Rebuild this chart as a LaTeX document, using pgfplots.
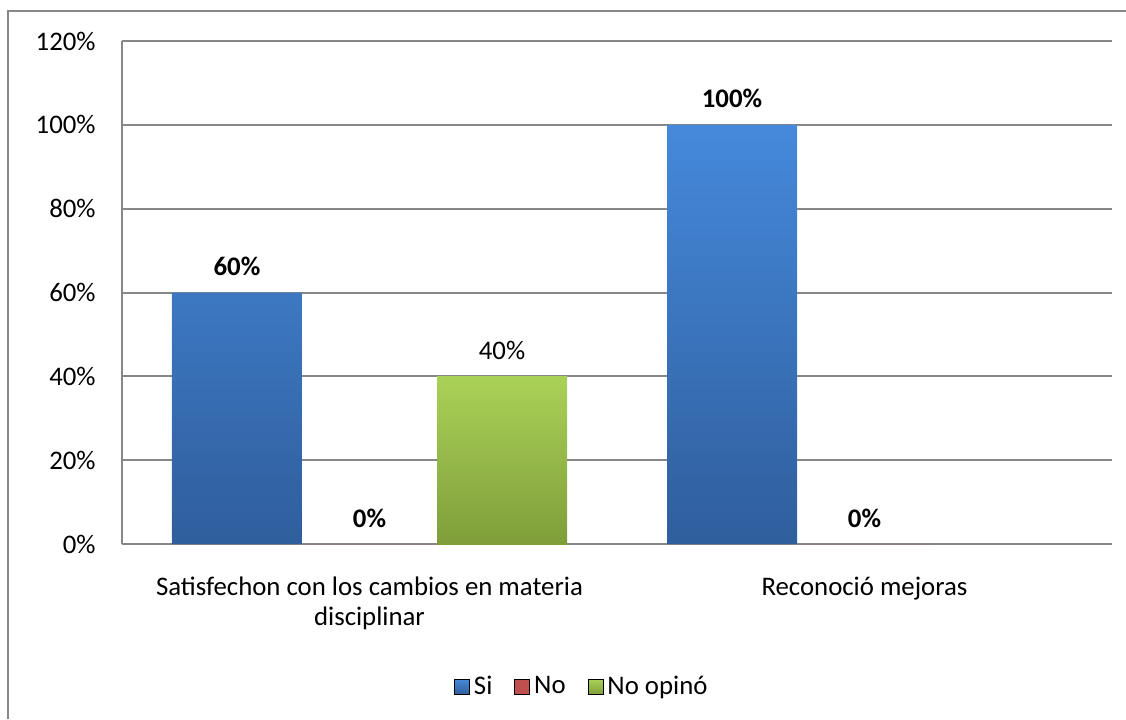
\documentclass[border=0pt]{standalone}
\usepackage{fontspec}
\setmainfont{Carlito}
\usepackage{pgfplots}
\pgfplotsset{compat=1.18}

\definecolor{gridgray}{HTML}{878787}
\definecolor{sitop}{HTML}{4589DB}
\definecolor{sibot}{HTML}{2F5E9C}
\definecolor{nored}{HTML}{C0504D}
\definecolor{optop}{HTML}{AAD157}
\definecolor{opbot}{HTML}{7F9E3A}

\begin{document}
\fontsize{13.4}{15}\selectfont
\begin{tikzpicture}[x=0.5pt,y=0.5pt]
\useasboundingbox (0,0) rectangle (1126,719);
% chart frame (cut off at right and bottom)
\draw[gridgray, line width=0.6pt] (8,0) -- (8,708) -- (1126,708);

\begin{axis}[
    at={(61pt,87.5pt)}, anchor=south west,
    scale only axis,
    width=495pt, height=251.5pt,
    xmin=-0.5, xmax=1.5,
    ymin=0, ymax=120,
    xtick={0,1},
    xticklabels={{Satisfechon con los cambios en materia\\disciplinar},{Reconoció mejoras}},
    xticklabel style={align=center, anchor=north, yshift=-12pt},
    ytick={0,20,...,120},
    yticklabel={\pgfmathprintnumber{\tick}\%},
    yticklabel style={anchor=east, inner sep=0pt, xshift=-13pt},
    /pgf/number format/assume math mode=true,
    major tick length=0pt,
    axis x line*=bottom, axis y line*=left,
    axis line style={-, gridgray, line width=1pt},
    ymajorgrids, grid style={gridgray, line width=1pt},
    ybar=1.25pt, bar width=65pt,
    nodes near coords={\pgfmathprintnumber{\pgfplotspointmeta}\%},
    every node near coord/.append style={anchor=center, yshift=13pt, text=black},
    legend style={at={(0.4655,-0.284)}, anchor=center, draw=none,
        legend columns=-1, font=\fontsize{13.4}{15}\selectfont,
        /tikz/every even column/.append style={column sep=9pt}},
    legend image code/.code={\draw[#1] (0pt,-3.75pt) rectangle (7.5pt,3.75pt);},
]
\addplot[draw=none, top color=sitop, bottom color=sibot,
    every node near coord/.append style={font=\bfseries}]
    coordinates {(0,60) (1,100)};
\addlegendentry{Si}
\addplot[draw=none, fill=nored,
    every node near coord/.append style={font=\bfseries}]
    coordinates {(0,0) (1,0)};
\addlegendentry{No}
\addplot[draw=none, top color=optop, bottom color=opbot]
    coordinates {(0,40)};
\addlegendentry{No opinó}
\end{axis}
\end{tikzpicture}
\end{document}
